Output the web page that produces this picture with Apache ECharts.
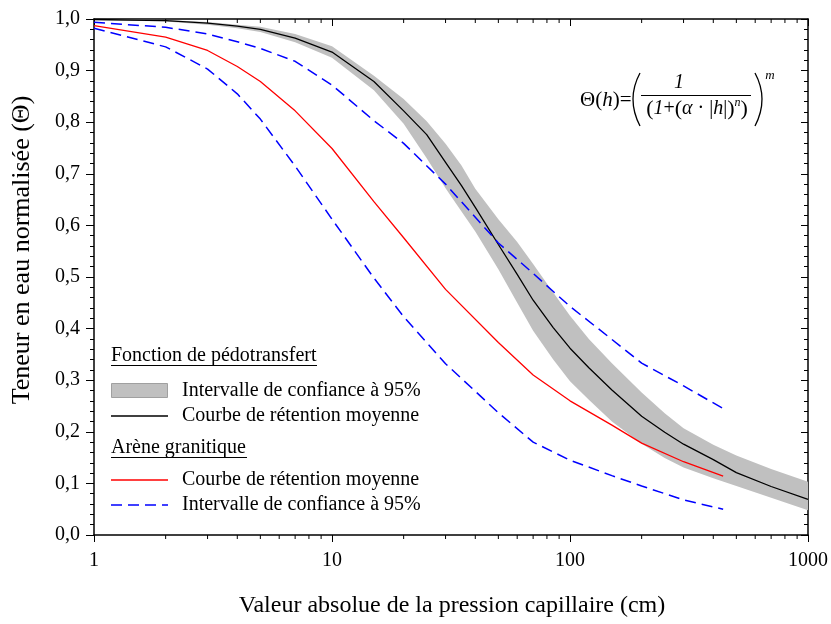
<!DOCTYPE html>
<html><head><meta charset="utf-8">
<script src="https://cdn.jsdelivr.net/npm/echarts@6/dist/echarts.min.js"></script>
<style>html,body{margin:0;padding:0;background:#fff}#c{width:831px;height:624px}</style>
</head><body><div id="c"></div>
<script>
// ---- data ----
const xTickLabels = ['1', '10', '100', '1000'];
const yTickLabels = ['0,0','0,1','0,2','0,3','0,4','0,5','0,6','0,7','0,8','0,9','1,0'];
const minorTickValues = [2,3,4,5,6,7,8,9,20,30,40,50,60,70,80,90,200,300,400,500,600,700,800,900];

// Fonction de pédotransfert
const hPtf     = [1, 2, 3, 4, 5, 7, 10, 15, 20, 25, 30, 35, 40, 50, 60, 70, 85, 100, 120, 150, 200, 250, 300, 400, 500, 700, 1000];
const ptfMean  = [0.999,0.997,0.992,0.986,0.980,0.963,0.936,0.879,0.822,0.776,0.722,0.677,0.635,0.563,0.505,0.455,0.402,0.362,0.324,0.281,0.230,0.199,0.176,0.146,0.121,0.094,0.069];
const ptfUpper = [1.000,0.998,0.994,0.989,0.985,0.971,0.947,0.890,0.845,0.802,0.758,0.716,0.671,0.612,0.568,0.525,0.470,0.425,0.380,0.333,0.276,0.236,0.207,0.175,0.154,0.128,0.103];
const ptfLower = [0.998,0.995,0.989,0.982,0.975,0.955,0.925,0.862,0.797,0.730,0.672,0.627,0.588,0.515,0.450,0.396,0.340,0.298,0.262,0.220,0.177,0.149,0.131,0.110,0.095,0.072,0.048];

// Arène granitique
const hArene     = [1, 2, 3, 4, 5, 7, 10, 15, 20, 30, 50, 70, 100, 150, 200, 300, 440];
const areneMean  = [0.987,0.965,0.939,0.908,0.879,0.822,0.749,0.646,0.576,0.476,0.373,0.310,0.260,0.213,0.178,0.142,0.114];
const areneUpper = [0.9935,0.984,0.971,0.956,0.943,0.918,0.872,0.803,0.759,0.680,0.566,0.507,0.443,0.379,0.333,0.289,0.245];
const areneLower = [0.982,0.946,0.903,0.855,0.806,0.715,0.612,0.498,0.423,0.332,0.237,0.180,0.145,0.115,0.095,0.068,0.050];

// ---- chart ----
const FF = "'Liberation Serif', 'Times New Roman', serif";
const chart = echarts.init(document.getElementById('c'), null, {renderer: 'canvas'});

const pairs = (xs, ys) => xs.map((x, i) => [x, ys[i]]);

const xAxisBase = {
  type: 'log', logBase: 10, min: 1, max: 1000,
  axisLine: {show: true, onZero: false, lineStyle: {color: '#000', width: 1.5}},
  splitLine: {show: false}, minorSplitLine: {show: false}
};
const yAxisBase = {
  type: 'value', min: 0, max: 1, interval: 0.1,
  axisLine: {show: true, onZero: false, lineStyle: {color: '#000', width: 1.5}},
  splitLine: {show: false}, minorSplitLine: {show: false}
};
const T = (x, y, text, font, align, extra) => Object.assign({
  type: 'text', x: x, y: y, silent: true,
  style: {text: text, font: font, fill: '#000', textAlign: align, textVerticalAlign: 'middle', align: align, verticalAlign: 'middle'}
}, extra || {});
const lineSeries = (name, xs, ys, color, width, type, z) => ({
  name: name, type: 'line', z: z, showSymbol: false, symbol: 'none', silent: true,
  data: pairs(xs, ys), lineStyle: {color: color, width: width, type: type}
});

const option = {
  animation: false,
  backgroundColor: '#fff',
  grid: {left: 94, right: 21, top: 19, bottom: 89, containLabel: false},
  xAxis: [
    Object.assign({}, xAxisBase, {
      position: 'bottom',
      axisTick: {show: true, length: 7, lineStyle: {color: '#000', width: 1}},
      axisLabel: {color: '#000', fontFamily: FF, fontSize: 20, margin: 16,
        formatter: v => xTickLabels[Math.round(Math.log10(v))]}
    }),
    Object.assign({}, xAxisBase, {
      position: 'top',
      axisTick: {show: true, inside: true, length: 7, lineStyle: {color: '#000', width: 1}},
      axisLabel: {show: false}
    })
  ],
  yAxis: [
    Object.assign({}, yAxisBase, {
      position: 'left',
      axisTick: {show: true, length: 8, lineStyle: {color: '#000', width: 1}},
      minorTick: {show: true, splitNumber: 5, length: 4, lineStyle: {color: '#000', width: 1}},
      axisLabel: {color: '#000', fontFamily: FF, fontSize: 20, margin: 14,
        formatter: v => yTickLabels[Math.round(v * 10)]}
    }),
    Object.assign({}, yAxisBase, {
      position: 'right',
      axisTick: {show: true, inside: true, length: 7, lineStyle: {color: '#000', width: 1}},
      minorTick: {show: true, splitNumber: 5, length: 4, lineStyle: {color: '#000', width: 1}},
      axisLabel: {show: false}
    })
  ],
  series: [
    {
      name: 'band', type: 'custom', xAxisIndex: 0, yAxisIndex: 0, z: 1, silent: true, clip: true,
      dimensions: ['h', 'up', 'low'],
      encode: {x: 0, y: [1, 2]},
      data: hPtf.map((h, i) => [h, ptfUpper[i], ptfLower[i]]),
      renderItem: (params, api) => {
        if (params.dataIndex !== 0) return null;
        const pts = [];
        for (let i = 0; i < hPtf.length; i++) pts.push(api.coord([hPtf[i], ptfUpper[i]]));
        for (let i = hPtf.length - 1; i >= 0; i--) pts.push(api.coord([hPtf[i], ptfLower[i]]));
        return {type: 'polygon', shape: {points: pts}, style: {fill: '#c0c0c0', stroke: null}};
      }
    },
    lineSeries('ptfMean', hPtf, ptfMean, '#000', 1.3, 'solid', 3),
    lineSeries('areneUpper', hArene, areneUpper, '#0000ff', 1.5, [11, 6], 3),
    lineSeries('areneLower', hArene, areneLower, '#0000ff', 1.5, [11, 6], 3),
    lineSeries('areneMean', hArene, areneMean, '#ff0000', 1.3, 'solid', 4),
    {
      name: 'minorTicks', type: 'custom', z: 5, silent: true, clip: false,
      data: minorTickValues.map(v => [v, 0]),
      encode: {x: 0, y: 1},
      renderItem: (params, api) => {
        const v = api.value(0);
        const b = api.coord([v, 0]);
        const t = api.coord([v, 1]);
        return {type: 'group', children: [
          {type: 'line', shape: {x1: b[0], y1: b[1], x2: b[0], y2: b[1] + 4}, style: {stroke: '#000', lineWidth: 1}},
          {type: 'line', shape: {x1: t[0], y1: t[1], x2: t[0], y2: t[1] + 4}, style: {stroke: '#000', lineWidth: 1}}
        ]};
      }
    }
  ],
  graphic: [
    // axis titles
    T(452, 606, 'Valeur absolue de la pression capillaire (cm)', '24px ' + FF, 'center'),
    T(22, 250, 'Teneur en eau normalisée (Θ)', '26px ' + FF, 'center', {rotation: Math.PI / 2}),
    // legend
    T(111, 356, 'Fonction de pédotransfert', '20px ' + FF, 'left'),
    {type: 'line', silent: true, shape: {x1: 111, y1: 365.5, x2: 317, y2: 365.5}, style: {stroke: '#000', lineWidth: 1}},
    {type: 'rect', silent: true, shape: {x: 111.5, y: 383.5, width: 56, height: 14}, style: {fill: '#c0c0c0', stroke: '#a0a0a0', lineWidth: 1}},
    T(182, 391, 'Intervalle de confiance à 95%', '20px ' + FF, 'left'),
    {type: 'line', silent: true, shape: {x1: 111, y1: 416, x2: 168, y2: 416}, style: {stroke: '#000', lineWidth: 1.3}},
    T(182, 416, 'Courbe de rétention moyenne', '20px ' + FF, 'left'),
    T(111, 448, 'Arène granitique', '20px ' + FF, 'left'),
    {type: 'line', silent: true, shape: {x1: 111, y1: 457.5, x2: 247, y2: 457.5}, style: {stroke: '#000', lineWidth: 1}},
    {type: 'line', silent: true, shape: {x1: 111, y1: 480, x2: 168, y2: 480}, style: {stroke: '#ff0000', lineWidth: 1.3}},
    T(182, 480, 'Courbe de rétention moyenne', '20px ' + FF, 'left'),
    {type: 'line', silent: true, shape: {x1: 111, y1: 505, x2: 168, y2: 505}, style: {stroke: '#0000ff', lineWidth: 1.5, lineDash: [11, 6]}},
    T(182, 505, 'Intervalle de confiance à 95%', '20px ' + FF, 'left'),
    // formula
    {type: 'text', x: 580, y: 100, silent: true,
      style: {text: '{a|Θ(}{i|h}{a|)=}', fill: '#000', textAlign: 'left', textVerticalAlign: 'middle', align: 'left', verticalAlign: 'middle',
        rich: {a: {fontFamily: FF, fontSize: 21, fill: '#000'}, i: {fontFamily: FF, fontSize: 21, fontStyle: 'italic', fill: '#000'}}}},
    {type: 'bezierCurve', silent: true, shape: {x1: 640, y1: 73, cpx1: 626, cpy1: 99, x2: 640, y2: 126}, style: {stroke: '#000', lineWidth: 1.3, fill: null}},
    {type: 'bezierCurve', silent: true, shape: {x1: 755, y1: 73, cpx1: 769, cpy1: 99, x2: 755, y2: 126}, style: {stroke: '#000', lineWidth: 1.3, fill: null}},
    T(679, 83, '1', 'italic 20px ' + FF, 'center'),
    {type: 'line', silent: true, shape: {x1: 641, y1: 95.5, x2: 751, y2: 95.5}, style: {stroke: '#000', lineWidth: 1}},
    {type: 'text', x: 697, y: 109, silent: true,
      style: {text: '{p|(}{i|1}{a|+}{p|(}{i|α}{a| · |}{i|h}{a||}{p|)}{s|n}{p|)}', fill: '#000',
        textAlign: 'center', textVerticalAlign: 'middle', align: 'center', verticalAlign: 'middle',
        rich: {
          a: {fontFamily: FF, fontSize: 20, fill: '#000', lineHeight: 24},
          p: {fontFamily: FF, fontSize: 22, fill: '#000', lineHeight: 24},
          i: {fontFamily: FF, fontSize: 20, fontStyle: 'italic', fill: '#000', lineHeight: 24},
          s: {fontFamily: FF, fontSize: 12, fontStyle: 'italic', fill: '#000', verticalAlign: 'top', lineHeight: 24}
        }}},
    T(770, 76, 'm', 'italic 13px ' + FF, 'center')
  ]
};
chart.setOption(option);
</script>
</body></html>
